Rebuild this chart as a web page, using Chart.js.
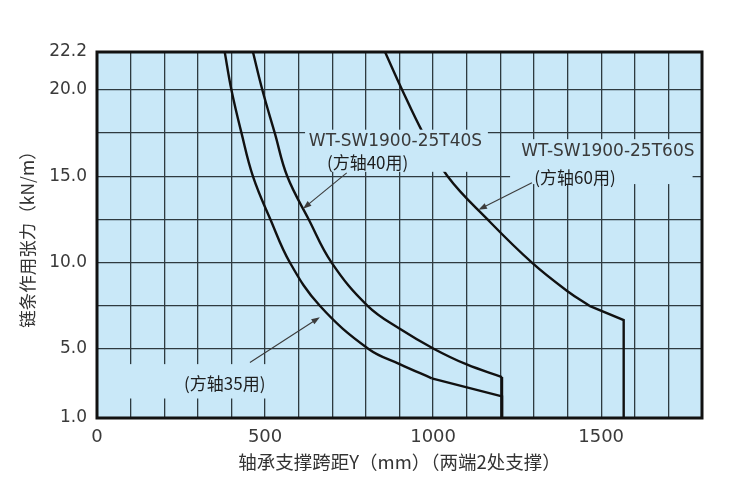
<!DOCTYPE html>
<html>
<head>
<meta charset="utf-8">
<script src="https://cdn.jsdelivr.net/npm/chart.js@4.4.1/dist/chart.umd.min.js"></script>
<style>
  body { margin: 0; background: #fff; }
</style>
</head>
<body>
<canvas id="Chart" width="733" height="497"></canvas>
<script>
// 方轴35用
const span35 = [380, 400, 430, 464, 516, 574, 663, 808, 902, 996];
const load35 = [22.2, 20, 17.5, 15, 12.5, 10, 7.5, 5, 4.11, 3.3];
const tailSpan35 = [996, 1205, 1205];
const tailLoad35 = [3.3, 2.25, 1.0];

// 方轴40用
const span40 = [464, 492, 529, 566, 630, 698, 805, 902, 1003, 1100, 1205];
const load40 = [22.2, 20, 17.5, 15, 12.5, 10, 7.5, 6.15, 5, 4.1, 3.37];
const tailSpan40 = [1205, 1205];
const tailLoad40 = [3.37, 1.0];

// 方轴60用
const span60 = [857, 908, 970, 1043, 1162, 1294, 1403, 1465];
const load60 = [22.2, 20, 17.5, 15, 12.5, 10, 8.3, 7.5];
const tailSpan60 = [1465, 1567, 1567];
const tailLoad60 = [7.5, 6.67, 1.0];

// axes
const yGrid = [1, 5, 7.5, 10, 12.5, 15, 17.5, 20, 22.2];
const yTickLabels = [1, 5, 10, 15, 20, 22.2];
const xTickLabels = [0, 500, 1000, 1500];

// label texts + where they sit (data units)
const labelTexts = ['WT-SW1900-25T40S', '(方轴40用)', 'WT-SW1900-25T60S', '(方轴60用)', '(方轴35用)'];
const labelX = [888, 805, 1520, 1422, 380];
const labelY = [17.04, 15.79, 16.46, 14.91, 3.0];
const labelLatin = [true, false, true, false, false];

// boxes that hide the grid behind labels: [x0, x1, y0, y1]
const boxes = [
  [619, 1163, 15.26, 17.7],
  [1229, 1772, 14.55, 17.15],
  [5, 580, 2.13, 4.12]
];

// arrows: [fromX, fromY, toX, toY]
const arrows = [
  [743, 15.2, 613, 13.12],
  [1294, 14.62, 1135, 13.06],
  [455, 4.21, 663, 6.84]
];

function toPoints(xs, ys) {
  return xs.map((x, i) => ({ x: x, y: ys[i] }));
}

// smooth parts get a bezier tension, the tails stay straight
function curve(xs, ys, smooth) {
  return {
    data: toPoints(xs, ys),
    borderColor: '#111',
    borderWidth: 2.4,
    pointRadius: 0,
    fill: false,
    tension: smooth ? 0.4 : 0
  };
}

const plotBg = {
  id: 'plotBg',
  beforeDraw(chart) {
    const a = chart.chartArea, ctx = chart.ctx;
    ctx.save();
    ctx.fillStyle = '#c9e8f8';
    ctx.fillRect(a.left, a.top, a.right - a.left, a.bottom - a.top);
    ctx.restore();
  }
};

const notes = {
  id: 'notes',
  afterDatasetsDraw(chart) {
    const ctx = chart.ctx, sx = chart.scales.x, sy = chart.scales.y, a = chart.chartArea;
    ctx.save();
    // boxes
    ctx.fillStyle = '#c9e8f8';
    boxes.forEach(b => {
      const x0 = sx.getPixelForValue(b[0]), x1 = sx.getPixelForValue(b[1]);
      const y0 = sy.getPixelForValue(b[3]), y1 = sy.getPixelForValue(b[2]);
      ctx.fillRect(x0, y0, x1 - x0, y1 - y0);
    });
    // texts
    ctx.textAlign = 'center';
    ctx.textBaseline = 'middle';
    labelTexts.forEach((t, i) => {
      ctx.fillStyle = labelLatin[i] ? '#3a3a3a' : '#1e1e1e';
      ctx.font = labelLatin[i] ? '17px "DejaVu Sans"' : '17px "Noto Sans CJK SC"';
      ctx.fillText(t, sx.getPixelForValue(labelX[i]), sy.getPixelForValue(labelY[i]));
    });
    // arrows
    ctx.strokeStyle = '#3c3c3c';
    ctx.fillStyle = '#3c3c3c';
    ctx.lineWidth = 1.1;
    arrows.forEach(r => {
      const x0 = sx.getPixelForValue(r[0]), y0 = sy.getPixelForValue(r[1]);
      const x1 = sx.getPixelForValue(r[2]), y1 = sy.getPixelForValue(r[3]);
      const ang = Math.atan2(y1 - y0, x1 - x0);
      ctx.beginPath();
      ctx.moveTo(x0, y0);
      ctx.lineTo(x1 - 6 * Math.cos(ang), y1 - 6 * Math.sin(ang));
      ctx.stroke();
      ctx.beginPath();
      ctx.moveTo(x1, y1);
      ctx.lineTo(x1 - 9 * Math.cos(ang - 0.35), y1 - 9 * Math.sin(ang - 0.35));
      ctx.lineTo(x1 - 9 * Math.cos(ang + 0.35), y1 - 9 * Math.sin(ang + 0.35));
      ctx.closePath();
      ctx.fill();
    });
    // frame
    ctx.strokeStyle = '#111';
    ctx.lineWidth = 3;
    ctx.strokeRect(a.left, a.top, a.right - a.left, a.bottom - a.top);
    ctx.restore();
  }
};

const ctx = document.getElementById('Chart').getContext('2d');
const myChart = new Chart(ctx, {
  type: 'line',
  data: {
    datasets: [
      curve(span35, load35, true),
      curve(tailSpan35, tailLoad35, false),
      curve(span40, load40, true),
      curve(tailSpan40, tailLoad40, false),
      curve(span60, load60, true),
      curve(tailSpan60, tailLoad60, false)
    ]
  },
  options: {
    responsive: false,
    animation: false,
    layout: { padding: { left: 0, right: 31, top: 52, bottom: 0 } },
    plugins: {
      legend: { display: false },
      tooltip: { enabled: false }
    },
    scales: {
      x: {
        type: 'linear',
        min: 0,
        max: 1800,
        border: { display: false },
        grid: { color: '#2e3a40', lineWidth: 1.3, drawTicks: false },
        ticks: {
          stepSize: 100,
          autoSkip: false,
          maxRotation: 0,
          padding: 9,
          color: '#3a3a3a',
          font: { family: 'DejaVu Sans', size: 18 },
          callback: v => xTickLabels.includes(v) ? String(v) : ''
        },
        title: {
          display: true,
          text: '轴承支撑跨距Y（mm）（两端2处支撑）',
          color: '#333',
          font: { family: 'Noto Sans CJK SC', size: 18.5 },
          padding: { top: 0, bottom: 24 }
        },
        afterFit(scale) { scale.height = 79; }
      },
      y: {
        type: 'linear',
        min: 1,
        max: 22.2,
        border: { display: false },
        grid: { color: '#2e3a40', lineWidth: 1.3, drawTicks: false },
        afterBuildTicks(scale) {
          scale.ticks = yGrid.map(v => ({ value: v }));
        },
        ticks: {
          autoSkip: false,
          padding: 10,
          color: '#3a3a3a',
          font: { family: 'DejaVu Sans', size: 17 },
          callback: v => yTickLabels.includes(v) ? v.toFixed(1) : ''
        },
        title: {
          display: true,
          text: '链条作用张力（kN/m）',
          color: '#333',
          font: { family: 'Noto Sans CJK SC', size: 17.5 },
          padding: { top: 17, bottom: 0 }
        },
        afterFit(scale) { scale.width = 97; }
      }
    }
  },
  plugins: [plotBg, notes]
});
</script>
</body>
</html>
